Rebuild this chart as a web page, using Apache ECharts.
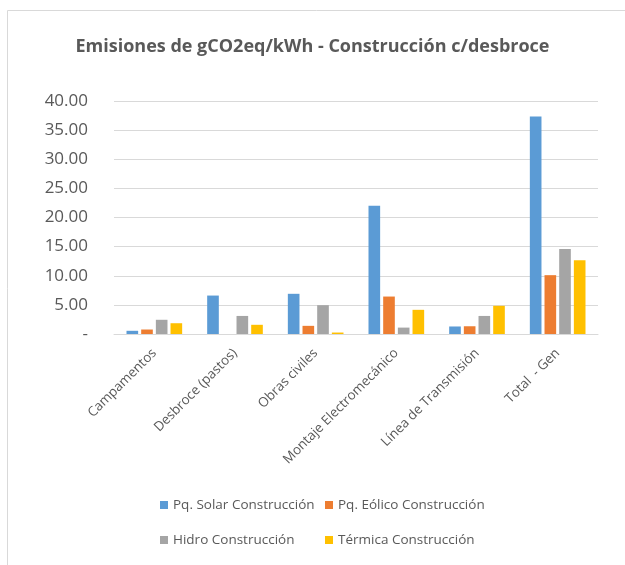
<!DOCTYPE html>
<html><head><meta charset="utf-8">
<script src="https://cdn.jsdelivr.net/npm/echarts@6/dist/echarts.min.js"></script>
<style>html,body{margin:0;padding:0;background:#fff}#c{width:625px;height:565px}</style>
</head><body><div id="c"></div>
<script>
const categories = ['Campamentos', 'Desbroce (pastos)', 'Obras civiles', 'Montaje Electromecánico', 'Línea de Transmisión', 'Total  - Gen'];
const seriesNames = ['Pq. Solar Construcción', 'Pq. Eólico Construcción', 'Hidro Construcción', 'Térmica Construcción'];
const solar = [0.55, 6.6, 6.9, 22.0, 1.29, 37.35];
const eolico = [0.77, 0, 1.4, 6.43, 1.33, 10.1];
const hidro = [2.44, 3.1, 4.95, 1.1, 3.1, 14.6];
const termica = [1.85, 1.58, 0.25, 4.15, 4.84, 12.65];
const yTicks = { min: 0, max: 40, interval: 5 };
const colors = ['#5b9bd5', '#ed7d31', '#a5a5a5', '#ffc000'];
const values = [solar, eolico, hidro, termica];
const font = 'Open Sans, Noto Sans, sans-serif';
const legendPos = [[155, 493], [320, 493], [155, 528], [320, 528]];

const chart = echarts.init(document.getElementById('c'));
chart.setOption({
  animation: false,
  title: {
    text: 'Emisiones de gCO2eq/kWh - Construcción c/desbroce',
    left: 'center', top: 33,
    textStyle: { fontFamily: font, fontSize: 18, fontWeight: 'bold', color: '#595959' }
  },
  graphic: [{ type: 'rect', shape: { x: 7.5, y: 10.5, width: 700, height: 700 }, style: { fill: 'none', stroke: '#d9d9d9', lineWidth: 1 }, silent: true }],
  legend: seriesNames.map((n, i) => ({
    data: [n], left: legendPos[i][0], top: legendPos[i][1], itemWidth: 8, itemHeight: 8, icon: 'rect',
    textStyle: { fontFamily: font, fontSize: 13.5, color: '#595959' }
  })),
  grid: { left: 114, right: 27, top: 101, bottom: 231, containLabel: false },
  xAxis: {
    type: 'category', data: categories,
    axisLine: { lineStyle: { color: '#d9d9d9', width: 1 } },
    axisTick: { show: false },
    axisLabel: { rotate: 45, interval: 0, margin: 17, fontFamily: font, fontSize: 13.3, color: '#595959' }
  },
  yAxis: {
    type: 'value', min: yTicks.min, max: yTicks.max, interval: yTicks.interval,
    axisLine: { show: false }, axisTick: { show: false },
    splitLine: { lineStyle: { color: '#d9d9d9', width: 1 } },
    axisLabel: { margin: 26, fontFamily: font, fontSize: 17, color: '#595959',
      formatter: v => v === 0 ? '-' : v.toFixed(2) }
  },
  series: seriesNames.map((n, i) => ({
    name: n, type: 'bar', data: values[i], barGap: '26%', barCategoryGap: '31%',
    itemStyle: { color: colors[i] }
  }))
});
</script></body></html>
